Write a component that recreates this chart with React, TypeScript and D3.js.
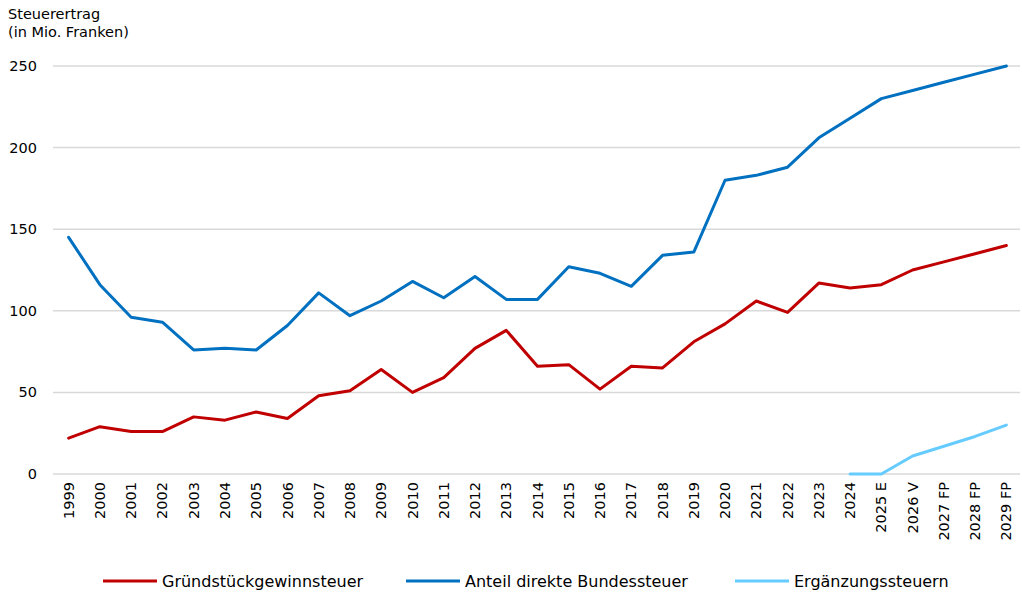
import { useRef, useEffect } from 'react';
import * as d3 from 'd3';

const categories = [
  '1999', '2000', '2001', '2002', '2003', '2004', '2005', '2006', '2007', '2008',
  '2009', '2010', '2011', '2012', '2013', '2014', '2015', '2016', '2017', '2018',
  '2019', '2020', '2021', '2022', '2023', '2024', '2025 E', '2026 V', '2027 FP', '2028 FP', '2029 FP',
];

const grundstueck = [
  22, 29, 26, 26, 35, 33, 38, 34, 48, 51,
  64, 50, 59, 77, 88, 66, 67, 52, 66, 65,
  81, 92, 106, 99, 117, 114, 116, 125, 130, 135, 140,
];

const bundessteuer = [
  145, 116, 96, 93, 76, 77, 76, 91, 111, 97,
  106, 118, 108, 121, 107, 107, 127, 123, 115, 134,
  136, 180, 183, 188, 206, 218, 230, 235, 240, 245, 250,
];

const ergaenzungCats = ['2024', '2025 E', '2026 V', '2027 FP', '2028 FP', '2029 FP'];
const ergaenzung = [0, 0, 11, 17, 23, 30];

const yTicks = [0, 50, 100, 150, 200, 250];

const series = [
  { name: 'Gründstückgewinnsteuer', color: '#C00000', cats: categories, values: grundstueck },
  { name: 'Anteil direkte Bundessteuer', color: '#0070C0', cats: categories, values: bundessteuer },
  { name: 'Ergänzungssteuern', color: '#66CCFF', cats: ergaenzungCats, values: ergaenzung },
];

const legendX = [103, 406, 735];

export default function App() {
  const svgRef = useRef<SVGSVGElement | null>(null);
  const width = 1022;
  const height = 592;

  useEffect(() => {
    const svg = d3.select(svgRef.current);
    svg.selectAll('*').remove();
    const font = "'DejaVu Sans', sans-serif";

    const x = d3.scaleBand<string>().domain(categories).range([53, 1022]);
    const y = d3.scaleLinear().domain([0, 250]).range([474, 66]);

    // gridlines
    svg.append('g')
      .selectAll('line')
      .data(yTicks)
      .join('line')
      .attr('x1', 53)
      .attr('x2', 1020)
      .attr('y1', d => y(d))
      .attr('y2', d => y(d))
      .attr('stroke', '#d9d9d9')
      .attr('stroke-width', 1.5);

    // y tick labels
    svg.append('g')
      .selectAll('text')
      .data(yTicks)
      .join('text')
      .attr('x', 37)
      .attr('y', d => y(d))
      .attr('dy', '0.35em')
      .attr('text-anchor', 'end')
      .attr('font-family', font)
      .attr('font-size', 14.5)
      .attr('fill', '#000')
      .text(d => d);

    // axis title
    const title = svg.append('text')
      .attr('font-family', font)
      .attr('font-size', 14.5)
      .attr('fill', '#000');
    title.append('tspan').attr('x', 8).attr('y', 19).text('Steuerertrag');
    title.append('tspan').attr('x', 8).attr('y', 37).text('(in Mio. Franken)');

    // x labels
    svg.append('g')
      .selectAll('text')
      .data(categories)
      .join('text')
      .attr('transform', d => `translate(${(x(d) ?? 0) + x.bandwidth() / 2},482) rotate(-90)`)
      .attr('dy', '0.35em')
      .attr('text-anchor', 'end')
      .attr('font-family', font)
      .attr('font-size', 14.5)
      .attr('fill', '#000')
      .text(d => d);

    // lines
    series.forEach(s => {
      const line = d3.line<number>()
        .x((_, i) => (x(s.cats[i]) ?? 0) + x.bandwidth() / 2)
        .y(d => y(d));
      svg.append('path')
        .datum(s.values)
        .attr('d', line)
        .attr('fill', 'none')
        .attr('stroke', s.color)
        .attr('stroke-width', 3)
        .attr('stroke-linejoin', 'round')
        .attr('stroke-linecap', 'round');
    });

    // legend
    const legend = svg.append('g');
    series.forEach((s, i) => {
      const lx = legendX[i];
      legend.append('line')
        .attr('x1', lx)
        .attr('x2', lx + 54)
        .attr('y1', 581)
        .attr('y2', 581)
        .attr('stroke', s.color)
        .attr('stroke-width', 3);
      legend.append('text')
        .attr('x', lx + 59)
        .attr('y', 581)
        .attr('dy', '0.35em')
        .attr('font-family', font)
        .attr('font-size', 16)
        .attr('fill', '#000')
        .text(s.name);
    });
  }, []);

  return (
    <svg
      ref={svgRef}
      width={width}
      height={height}
      style={{ position: 'absolute', left: 0, top: 0, background: '#fff' }}
    />
  );
}
